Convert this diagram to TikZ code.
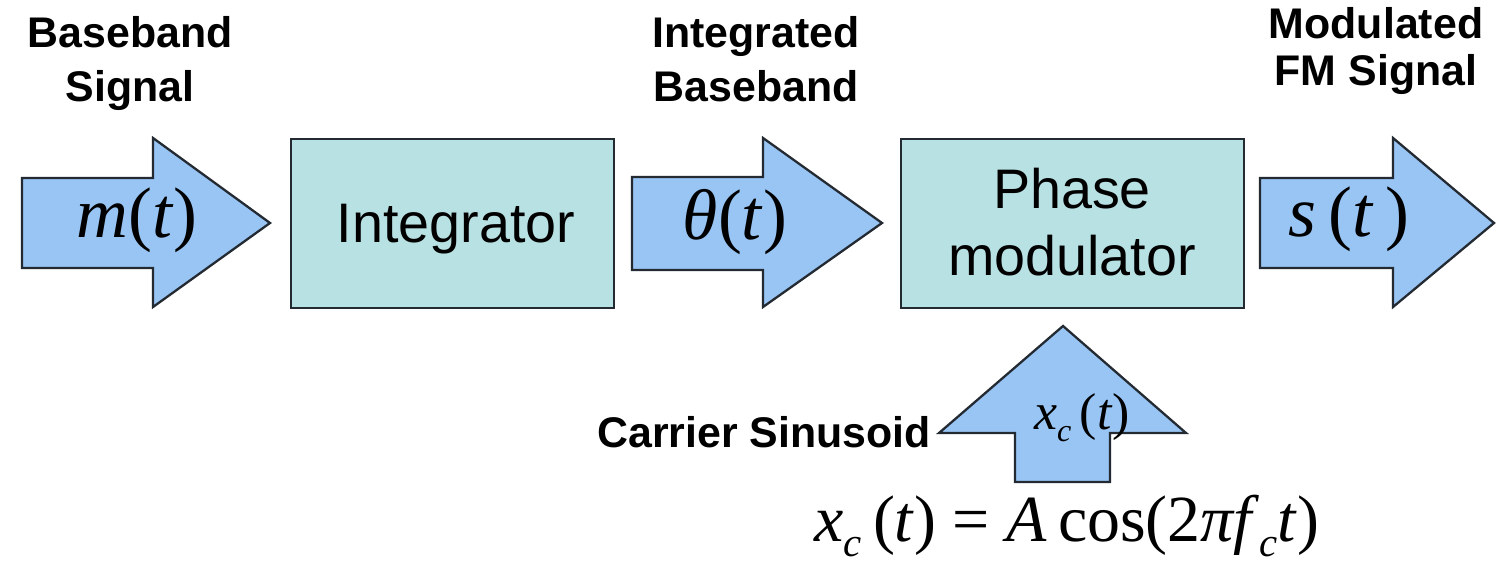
\documentclass[tikz,border=0pt]{standalone}
\usepackage{graphicx}
\usepackage{fontspec}
\setmainfont{Liberation Sans}
\newfontfamily\tms{Liberation Serif}

\definecolor{arrowblue}{RGB}{153,197,244}
\definecolor{boxcyan}{RGB}{184,225,227}
\definecolor{edgegray}{RGB}{35,42,50}

% small lowered subscript in the serif face
\newcommand{\lowsub}[1]{\raisebox{-0.24em}{\scalebox{0.62}{#1}}}

\begin{document}
\begin{tikzpicture}[x=0.02cm,y=-0.02cm,
  blockarrow/.style={fill=arrowblue,draw=edgegray,line width=1.3pt,line join=miter},
  blockbox/.style={rectangle,fill=boxcyan,draw=edgegray,line width=1.3pt,inner sep=0pt},
  toplabel/.style={inner sep=0pt,align=center,
    font=\fontsize{24.4}{30.6}\selectfont\bfseries},
  boxtext/.style={inner sep=0pt,align=center,
    font=\fontsize{31.7}{38}\selectfont},
  sigmath/.style={inner sep=0pt,font=\tms\fontsize{40.8}{44}\selectfont},
  eqmath/.style={inner sep=0pt,font=\tms\fontsize{37.5}{40}\selectfont},
  smallmath/.style={inner sep=0pt,font=\tms\fontsize{29.5}{32}\selectfont}]

\useasboundingbox (0,0) rectangle (1496,563);
\clip (0,0) rectangle (1496,563);
\fill[white] (0,0) rectangle (1496,563);

% processing blocks
\node[blockbox,minimum width=6.46cm,minimum height=3.38cm,anchor=north west]
  (integ) at (290,138) {};
\node[blockbox,minimum width=6.86cm,minimum height=3.38cm,anchor=north west]
  (pm) at (900,138) {};

% block arrows
\draw[blockarrow] (22,178) -- (153,178) -- (153,138) -- (270,223)
  -- (153,307) -- (153,268) -- (22,268) -- cycle;
\draw[blockarrow] (632,177) -- (763,177) -- (763,138) -- (882,223)
  -- (763,307) -- (763,270) -- (632,270) -- cycle;
\draw[blockarrow] (1260,178) -- (1393,178) -- (1393,138) -- (1494,223)
  -- (1393,307) -- (1393,268) -- (1260,268) -- cycle;
\draw[blockarrow] (1015,482) -- (1015,433) -- (939,433) -- (1063,326)
  -- (1186,433) -- (1110,433) -- (1110,482) -- cycle;

% texts inside the blocks
\node[boxtext,anchor=base] (integtxt) at (456,243) {Integrator};
\node[boxtext,anchor=north] (pmtxt) at (1072,168) {Phase\\modulator};

% signals on the arrows
\node[sigmath,anchor=base] (mt) at (137,238) {\textit{m}(\textit{t})};
\node[sigmath,anchor=base] (tht) at (735,240) {\textit{θ}(\textit{t})};
\node[sigmath,anchor=base] (st) at (1349,237) {\textit{s}\,(\textit{t}\,)};
\node[smallmath,anchor=base] (xct) at (1082,429)
  {\textit{x}\lowsub{\textit{c}}\,(\textit{t})};

% labels
\node[toplabel,anchor=north] (lbb) at (130,16) {Baseband\\Signal};
\node[toplabel,anchor=north] (lib) at (756,16) {Integrated\\Baseband};
\node[toplabel,anchor=north,font=\fontsize{24.4}{26.6}\selectfont\bfseries]
  (lfm) at (1376,7) {Modulated\\FM Signal};
\node[toplabel,anchor=base] (lcs) at (764,447) {Carrier Sinusoid};

% carrier equation
\node[eqmath,anchor=base] (eq) at (1067,541)
  {\textit{x}\lowsub{\textit{c}}\,(\textit{t}) = \textit{A}\,cos(2\textit{πf}\lowsub{\textit{c}}\textit{t})};
\end{tikzpicture}
\end{document}
